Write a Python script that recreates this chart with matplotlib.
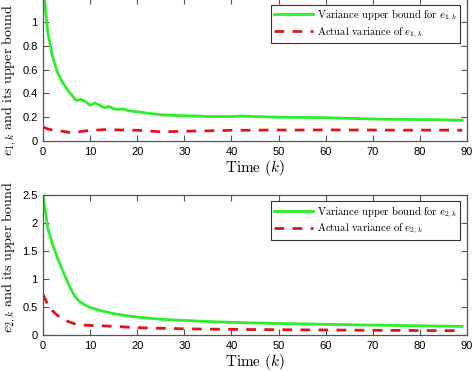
import numpy as np
import matplotlib
matplotlib.use('Agg')
import matplotlib.pyplot as plt

plt.rcParams['font.family'] = ['Liberation Sans', 'DejaVu Sans']
plt.rcParams['mathtext.fontset'] = 'cm'

# datos
k1 = [0, 1, 2, 3, 4, 5, 6, 7, 8, 9, 10, 11, 12, 13, 14, 15, 16, 17, 18, 19, 20,
      22, 25, 28, 30, 33, 35, 38, 40, 42, 45, 50, 55, 60, 65, 70, 75, 80, 85, 89]
cota1 = [1.30, 0.91, 0.71, 0.58, 0.50, 0.44, 0.39, 0.34, 0.35, 0.33, 0.30, 0.32, 0.30,
         0.28, 0.29, 0.27, 0.265, 0.27, 0.255, 0.25, 0.245, 0.235, 0.22, 0.215, 0.212,
         0.21, 0.205, 0.205, 0.205, 0.21, 0.205, 0.20, 0.198, 0.196, 0.19, 0.185, 0.182,
         0.18, 0.178, 0.175]
var1 = [0.118, 0.10, 0.092, 0.088, 0.082, 0.076, 0.068, 0.07, 0.08, 0.085, 0.088, 0.09,
        0.093, 0.095, 0.095, 0.094, 0.093, 0.092, 0.091, 0.09, 0.09, 0.085, 0.077, 0.08,
        0.082, 0.084, 0.085, 0.088, 0.09, 0.09, 0.091, 0.092, 0.092, 0.093, 0.092, 0.092,
        0.091, 0.091, 0.091, 0.09]

k2 = [0, 1, 2, 3, 4, 5, 6, 7, 8, 9, 10, 12, 15, 18, 20, 25, 30, 35, 40, 45, 50, 55,
      60, 65, 70, 75, 80, 85, 89]
cota2 = [2.50, 1.90, 1.62, 1.38, 1.18, 0.98, 0.80, 0.66, 0.58, 0.53, 0.49, 0.44, 0.38,
         0.34, 0.32, 0.28, 0.26, 0.24, 0.225, 0.215, 0.205, 0.198, 0.19, 0.183, 0.176,
         0.17, 0.165, 0.158, 0.152]
var2 = [0.72, 0.54, 0.43, 0.35, 0.29, 0.25, 0.22, 0.19, 0.18, 0.175, 0.17, 0.165, 0.155,
        0.14, 0.13, 0.12, 0.11, 0.105, 0.10, 0.097, 0.094, 0.091, 0.089, 0.086, 0.084,
        0.082, 0.08, 0.078, 0.077]

verde = '#2cef2c'
rojo = '#e3131b'

fig = plt.figure(figsize=(4.74, 3.72), dpi=100)
ax1 = fig.add_axes([0.091, 0.621, 0.894, 0.384])
ax2 = fig.add_axes([0.091, 0.0995, 0.894, 0.3765])

paneles = [
    (ax1, k1, cota1, var1, '1', 1.2, np.arange(0, 1.01, 0.2), ['0', '0.2', '0.4', '0.6', '0.8', '1']),
    (ax2, k2, cota2, var2, '2', 2.5, np.arange(0, 2.51, 0.5), ['0', '0.5', '1', '1.5', '2', '2.5']),
]

for ax, k, cota, var, i, ymax, yt, ytl in paneles:
    ax.plot(k, cota, color=verde, linewidth=2.0,
            label=r'$\mathrm{Variance\ upper\ bound\ for}\ e_{' + i + r',k}$')
    ax.plot(k, var, color=rojo, linewidth=2.0, dashes=(3.5, 3),
            label=r'$\mathrm{Actual\ variance\ of}\ e_{' + i + r',k}$')
    ax.set_xlim(0, 90)
    ax.set_ylim(0, ymax)
    ax.set_xticks(np.arange(0, 91, 10))
    ax.set_yticks(yt)
    ax.set_yticklabels(ytl)
    ax.tick_params(direction='in', top=True, right=True, length=4, width=0.8,
                   labelsize=8, colors='#555555', labelcolor='black', pad=4)
    for s in ax.spines.values():
        s.set_color('#555555')
        s.set_linewidth(0.9)
    ax.set_xlabel(r'$\mathrm{Time}\ (k)$', fontsize=11, labelpad=1)
    leg = ax.legend(loc='upper right', fontsize=7.7, frameon=True, fancybox=False,
                    edgecolor='black', handlelength=3.6, borderpad=0.3,
                    labelspacing=0.2, handletextpad=0.4, borderaxespad=0.6)
    leg.get_frame().set_linewidth(0.8)

# etiquetas del eje y
fig.text(0.021, 0.786, r'$e_{1,k}\ \mathrm{and\ its\ upper\ bound}$', rotation=90,
         fontsize=10.2, ha='center', va='center')
fig.text(0.021, 0.309, r'$e_{2,k}\ \mathrm{and\ its\ upper\ bound}$', rotation=90,
         fontsize=10.2, ha='center', va='center')

fig.savefig('out.png', dpi=100)
